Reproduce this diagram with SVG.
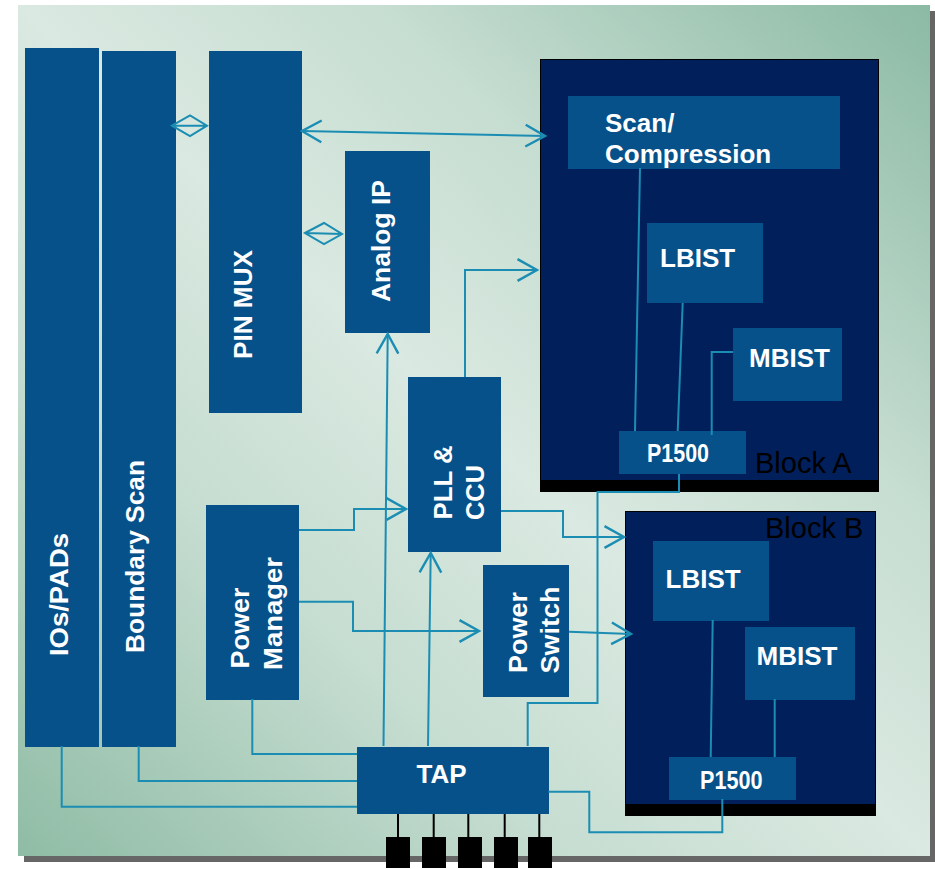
<svg xmlns="http://www.w3.org/2000/svg" width="935" height="869" viewBox="0 0 935 869">
<defs>
<linearGradient id="bg" x1="0" y1="1" x2="1" y2="0">
<stop offset="0" stop-color="#8fbca5"/>
<stop offset="0.3" stop-color="#c6ddd1"/>
<stop offset="0.5" stop-color="#dae9e1"/>
<stop offset="0.7" stop-color="#c6ddd1"/>
<stop offset="1" stop-color="#8bbaa3"/>
</linearGradient>
<marker id="ah" markerUnits="userSpaceOnUse" markerWidth="26" markerHeight="26" refX="20" refY="12" orient="auto-start-reverse" viewBox="0 0 24 24" overflow="visible">
<path d="M2,2 L20,12 L2,22" fill="none" stroke="#1b8db3" stroke-width="2.2"/>
</marker>
</defs>
<style>
.n{fill:#07518a}
.blk{fill:#011f5b}
.t{font-family:"Liberation Sans",Arial,sans-serif;font-weight:bold;font-size:26px;fill:#ffffff}
.bl{font-family:"Liberation Sans",Arial,sans-serif;font-size:29px;fill:#000000}
.c{fill:none;stroke:#1b8db3;stroke-width:2}
.a{marker-end:url(#ah)}
.pin{fill:#000000}
</style>
<rect x="24" y="11" width="911" height="851" fill="#666666"/>
<rect x="18" y="5" width="912" height="851" fill="url(#bg)"/>

<g id="ios-pads"><rect class="n" x="25" y="48" width="74" height="699"/>
<text class="t" transform="translate(68,656) rotate(-90)" textLength="123" lengthAdjust="spacingAndGlyphs">IOs/PADs</text></g>
<g id="boundary-scan"><rect class="n" x="102" y="51" width="74" height="696"/>
<text class="t" transform="translate(144,653) rotate(-90)" textLength="193" lengthAdjust="spacingAndGlyphs">Boundary Scan</text></g>
<g id="pin-mux"><rect class="n" x="209" y="51" width="93" height="362"/>
<text class="t" transform="translate(251.5,359) rotate(-90)" textLength="109" lengthAdjust="spacingAndGlyphs">PIN MUX</text></g>
<g id="analog-ip"><rect class="n" x="345" y="151" width="85" height="182"/>
<text class="t" transform="translate(389.5,302) rotate(-90)" textLength="122" lengthAdjust="spacingAndGlyphs">Analog IP</text></g>
<g id="pll-ccu"><rect class="n" x="408" y="377" width="93" height="175"/>
<text class="t" transform="translate(451.5,519.5) rotate(-90)" textLength="74" lengthAdjust="spacingAndGlyphs">PLL &amp;</text>
<text class="t" transform="translate(484,520) rotate(-90)" textLength="55" lengthAdjust="spacingAndGlyphs">CCU</text></g>
<g id="power-manager"><rect class="n" x="206" y="505" width="93" height="195"/>
<text class="t" transform="translate(249,668.5) rotate(-90)" textLength="81" lengthAdjust="spacingAndGlyphs">Power</text>
<text class="t" transform="translate(281.5,670) rotate(-90)" textLength="113" lengthAdjust="spacingAndGlyphs">Manager</text></g>
<g id="power-switch"><rect class="n" x="483" y="565" width="86" height="132"/>
<text class="t" transform="translate(526.5,673) rotate(-90)" textLength="81" lengthAdjust="spacingAndGlyphs">Power</text>
<text class="t" transform="translate(559,673.5) rotate(-90)" textLength="87" lengthAdjust="spacingAndGlyphs">Switch</text></g>
<g id="tap"><rect class="n" x="357" y="747" width="192" height="67"/>
<text class="t" x="416.5" y="782.5">TAP</text></g>
<g id="tap-pins">
<rect class="pin" x="386" y="837" width="24" height="31"/>
<rect class="pin" x="422" y="837" width="24" height="31"/>
<rect class="pin" x="458" y="837" width="24" height="31"/>
<rect class="pin" x="494" y="837" width="24" height="31"/>
<rect class="pin" x="528" y="837" width="24" height="31"/>
<path d="M398,814V837M433.7,814V837M468.3,814V837M504.7,814V837M539.3,814V837" stroke="#000000" stroke-width="2"/>
</g>

<g id="block-a"><rect x="540" y="59" width="339" height="433" fill="#000000"/>
<rect class="blk" x="541" y="60" width="337" height="420"/>
<text class="bl" x="755" y="472.5">Block A</text></g>
<g id="scan-compression"><rect class="n" x="568" y="96" width="272" height="73"/>
<text class="t" x="605" y="131.5">Scan/</text>
<text class="t" x="605" y="163">Compression</text></g>
<g id="lbist-a"><rect class="n" x="647" y="223" width="116" height="80"/>
<text class="t" x="660" y="266.5">LBIST</text></g>
<g id="mbist-a"><rect class="n" x="733" y="328" width="109" height="73"/>
<text class="t" x="749" y="366.5">MBIST</text></g>
<g id="p1500-a"><rect class="n" x="619" y="431" width="127" height="43"/>
<text class="t" x="647" y="462" textLength="62" lengthAdjust="spacingAndGlyphs">P1500</text></g>

<g id="block-b"><rect x="625" y="511" width="251" height="305" fill="#000000"/>
<rect class="blk" x="626" y="512" width="249" height="292"/>
<text class="bl" x="765" y="537.5">Block B</text></g>
<g id="lbist-b"><rect class="n" x="653" y="541" width="116" height="80"/>
<text class="t" x="665.5" y="587.5">LBIST</text></g>
<g id="mbist-b"><rect class="n" x="745" y="627" width="110" height="73"/>
<text class="t" x="756.5" y="665">MBIST</text></g>
<g id="p1500-b"><rect class="n" x="669" y="757" width="127" height="43"/>
<text class="t" x="700" y="788.5" textLength="62.5" lengthAdjust="spacingAndGlyphs">P1500</text></g>

<g id="connectors">
<path class="c" d="M302,131 L545,136" marker-start="url(#ah)" marker-end="url(#ah)"/>
<path class="c" d="M172,125.7 L190,115.5 L207,125.7 L190,136 Z M172,125.7 H207"/>
<path class="c" d="M305,233 L324,223 L342,234 L324,244 Z M305,233 L342,234"/>
<path class="c a" d="M465,377 V270 H537"/>
<path class="c a" d="M501,511 H563 V537 H624"/>
<path class="c a" d="M299,530 H354 V509 H406"/>
<path class="c a" d="M299,601.7 H353 V631 H479"/>
<path class="c a" d="M569,631.7 L631,634"/>
<path class="c a" d="M383.5,746 L387.7,334"/>
<path class="c a" d="M428,746 L430.7,553"/>
<path class="c" d="M252.3,699 V754 H357"/>
<path class="c" d="M138.7,746 V781 H357"/>
<path class="c" d="M61.7,746 V806.7 H357"/>
<path class="c" d="M527.7,746 V703 H597.5 V492 H679 V474"/>
<path class="c" d="M548.5,791.7 H589.3 V832.3 H722.3 V799"/>
<path class="c" d="M640,168 L635,431 M682.7,303 L677.7,431 M733,352 H711.7 V435"/>
<path class="c" d="M712.7,620 L710.7,757 M774.7,699 V757"/>
</g>
</svg>
